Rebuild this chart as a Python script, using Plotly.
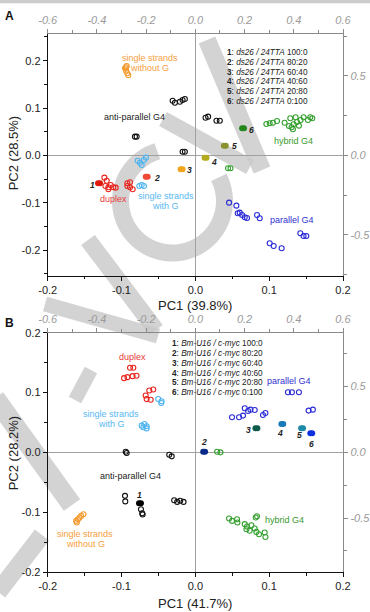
import math
import plotly.graph_objects as go

W, H = 370, 612
FONT = "Liberation Sans, Arial, sans-serif"

# ---------------- Panel A data ----------------
A_ssnoG_x = [-0.0953, -0.0939, -0.0922, -0.0908, -0.0930, -0.0939]
A_ssnoG_y = [0.184, 0.179, 0.1734, 0.1692, 0.1888, 0.186]
A_anti_x = [-0.0308, -0.0277, -0.0209, -0.0173, -0.0142, 0.0138, 0.0173, 0.0286, 0.0331,
            -0.0818, -0.0795, -0.0173, -0.0142]
A_anti_y = [0.1156, 0.1114, 0.1135, 0.1171, 0.1192, 0.0797, 0.0819, 0.0734, 0.0734,
            0.0397, 0.0397, 0.008, 0.008]
A_hyb_x = [0.0962, 0.1007, 0.1051, 0.1106, 0.1209, 0.1268, 0.1304, 0.1331, 0.1286, 0.1358,
           0.1376, 0.1403, 0.1426, 0.1466, 0.1525, 0.1557, 0.1584, 0.1322, 0.0443, 0.0476]
A_hyb_y = [0.0665, 0.0679, 0.0692, 0.0728, 0.0692, 0.0622, 0.0595, 0.0658, 0.0785, 0.0806,
           0.0707, 0.0629, 0.0749, 0.0806, 0.0749, 0.0806, 0.0785, 0.0553, -0.027, -0.027]
A_dup_x = [-0.1232, -0.1200, -0.1219, -0.1178, -0.1146, -0.1111, -0.1079, -0.0921, -0.0885,
           -0.0921, -0.0885, -0.0849, -0.1178]
A_dup_y = [-0.0468, -0.0532, -0.0643, -0.0671, -0.0622, -0.0671, -0.0679, -0.0587, -0.0566,
           -0.0643, -0.0671, -0.0713, -0.0713]
A_ssG_x = [-0.0781, -0.0750, -0.0727, -0.0696, -0.0669, -0.0759, -0.0727, -0.0696]
A_ssG_y = [-0.011, -0.0152, -0.020, -0.0095, -0.0046, -0.0643, -0.0622, -0.0643]
A_par_x = [0.0457, 0.0556, 0.0574, 0.0601, 0.0633, 0.0669, 0.0700, 0.0835, 0.0872, 0.1007,
           0.1061, 0.1169, 0.1422, 0.1466, 0.1503]
A_par_y = [-0.0995, -0.1058, -0.122, -0.1206, -0.1255, -0.1304, -0.1319, -0.1255, -0.1325,
           -0.1852, -0.1909, -0.1958, -0.1641, -0.1698, -0.1698]
A_mix_x = [-0.1305, -0.0659, -0.0186, 0.0138, 0.0399, 0.0646]
A_mix_y = [-0.0587, -0.0447, -0.0291, -0.0046, 0.0207, 0.0574]
A_mix_labels = ["1", "2", "3", "4", "5", "6"]
A_mix_colors = ["#e0180c", "#ee4a36", "#f0a51c", "#b4aa1e", "#8a9230", "#23871d"]
A_ratios = ["100:0", "80:20", "60:40", "40:60", "20:80", "0:100"]

# ---------------- Panel B data ----------------
B_dup_x = [-0.0885, -0.0840, -0.0966, -0.0920, -0.0850, -0.0797, -0.0624, -0.0570, -0.0673,
           -0.0660, -0.0605]
B_dup_y = [0.1413, 0.1413, 0.124, 0.1257, 0.1274, 0.128, 0.1033, 0.105, 0.095, 0.089, 0.088]
B_ssG_x = [-0.0503, -0.0457, -0.0462, -0.0727, -0.0690, -0.0660, -0.0705, -0.0660]
B_ssG_y = [0.0893, 0.0855, 0.0826, 0.0446, 0.0474, 0.0436, 0.042, 0.040]
B_par_x = [0.0497, 0.0592, 0.0646, 0.0669, 0.0714, 0.0746, 0.0804, 0.0916, 0.0949, 0.1254,
           0.1308, 0.1403, 0.1534, 0.1592]
B_par_y = [0.0586, 0.0586, 0.0614, 0.0737, 0.0692, 0.0714, 0.0709, 0.0625, 0.0659, 0.1005,
           0.1005, 0.1005, 0.0698, 0.0714]
B_anti_x = [-0.0943, -0.0930, -0.0354, -0.0320, -0.0953, -0.0949, -0.0737, -0.0720, -0.0714,
            -0.0287, -0.0246, -0.0205, -0.0160]
B_anti_y = [0.001, -0.001, -0.004, -0.0067, -0.0727, -0.082, -0.095, -0.1017, -0.104,
            -0.080, -0.0828, -0.081, -0.0828]
B_hyb_x = [0.0295, 0.0340, 0.0457, 0.0497, 0.0565, 0.0570, 0.0669, 0.0700, 0.0692, 0.0736,
           0.0759, 0.0804, 0.0827, 0.0862, 0.0939, 0.0949, 0.0818, 0.0835]
B_hyb_y = [0.001, 0.0, -0.1106, -0.1146, -0.1118, -0.1173, -0.120, -0.124, -0.1285, -0.131,
           -0.1218, -0.1274, -0.133, -0.137, -0.134, -0.1414, -0.109, -0.1067]
B_ssnoG_x = [-0.1615, -0.1590, -0.1570, -0.1547, -0.1516, -0.1605]
B_ssnoG_y = [-0.1146, -0.112, -0.1095, -0.1062, -0.1034, -0.1173]
B_mix_x = [-0.0750, 0.0119, 0.0827, 0.1178, 0.1446, 0.1570]
B_mix_y = [-0.085, 0.001, 0.0402, 0.0474, 0.0402, 0.0318]
B_mix_labels = ["1", "2", "3", "4", "5", "6"]
B_mix_colors = ["#000000", "#0a2a8a", "#0f5a4a", "#1a7ab8", "#1f8aa5", "#1030e0"]
B_ratios = ["100:0", "80:20", "60:40", "40:60", "20:80", "0:100"]

# tick values
X_TICKS = [-0.2, -0.1, 0.0, 0.1, 0.2]
Y_TICKS = [-0.2, -0.1, 0.0, 0.1, 0.2]
TOP_TICKS = [-0.6, -0.4, -0.2, 0.0, 0.2, 0.4, 0.6]
RIGHT_TICKS = [-0.5, 0.0, 0.5]

C_RED = "#e8261f"
C_LBLUE = "#4fb4f0"
C_ORANGE = "#f39a2e"
C_GREEN = "#36a030"
C_BLUE = "#2b2bd6"
C_BLACK = "#111111"


def P(x, y):
    return x / W, 1 - y / H


def fmt(v):
    return f"{v:.1f}"


fig = go.Figure()


def open_trace(xs, ys, color, xa, ya):
    fig.add_trace(go.Scatter(
        x=xs, y=ys, mode="markers", xaxis=xa, yaxis=ya, showlegend=False, hoverinfo="skip",
        marker=dict(symbol="circle-open", size=5, color=color, line=dict(width=1.1, color=color))))


def filled_trace(xs, ys, colors, xa, ya):
    # two slightly offset dots each, to give the elongated blob look
    xx, yy, cc = [], [], []
    for x, y, c in zip(xs, ys, colors):
        for d in (-0.0013, 0.0013):
            xx.append(x + d)
            yy.append(y)
            cc.append(c)
    fig.add_trace(go.Scatter(
        x=xx, y=yy, mode="markers", xaxis=xa, yaxis=ya, showlegend=False, hoverinfo="skip",
        marker=dict(symbol="circle", size=6, color=cc, line=dict(width=0))))


# Panel A
open_trace(A_ssnoG_x, A_ssnoG_y, C_ORANGE, "x", "y")
open_trace(A_anti_x, A_anti_y, C_BLACK, "x", "y")
open_trace(A_hyb_x, A_hyb_y, C_GREEN, "x", "y")
open_trace(A_dup_x, A_dup_y, C_RED, "x", "y")
open_trace(A_ssG_x, A_ssG_y, C_LBLUE, "x", "y")
open_trace(A_par_x, A_par_y, C_BLUE, "x", "y")
filled_trace(A_mix_x, A_mix_y, A_mix_colors, "x", "y")
fig.add_trace(go.Scatter(x=[], y=[], xaxis="x2", yaxis="y2", showlegend=False))

# Panel B
open_trace(B_dup_x, B_dup_y, C_RED, "x3", "y3")
open_trace(B_ssG_x, B_ssG_y, C_LBLUE, "x3", "y3")
open_trace(B_par_x, B_par_y, C_BLUE, "x3", "y3")
open_trace(B_anti_x, B_anti_y, C_BLACK, "x3", "y3")
open_trace(B_hyb_x, B_hyb_y, C_GREEN, "x3", "y3")
open_trace(B_ssnoG_x, B_ssnoG_y, C_ORANGE, "x3", "y3")
filled_trace(B_mix_x, B_mix_y, B_mix_colors, "x3", "y3")
fig.add_trace(go.Scatter(x=[], y=[], xaxis="x4", yaxis="y4", showlegend=False))

# ---------------- layout geometry (px) ----------------
XL, XR = 47.7, 343.0
A_TOP, A_BOT = 34.0, 275.5
B_TOP, B_BOT = 332.7, 572.0
xdom = [XL / W, XR / W]
A_dom = [1 - A_BOT / H, 1 - A_TOP / H]
B_dom = [1 - B_BOT / H, 1 - B_TOP / H]

A_yrange = [-0.2532, 0.2563]
A_rrange = [-0.755, 0.764]
B_yrange = [-0.2, 0.2]
B_rrange = [-0.91, 0.91]

tickfont = dict(family=FONT, size=11, color="#222")
grayfont = dict(family=FONT, size=11, color="#9a9a9a", style="italic")


def main_x(dom_anchor):
    return dict(domain=xdom, range=[-0.2, 0.2], anchor=dom_anchor, showgrid=False,
                automargin=False,
                zeroline=True, zerolinecolor="#a0a0a0", zerolinewidth=1.3,
                showline=True, linecolor="#111", linewidth=1,
                ticks="outside", ticklen=4, tickcolor="#111", tickwidth=1,
                tickmode="array", tickvals=X_TICKS, ticktext=[fmt(v) for v in X_TICKS],
                tickfont=tickfont,
                minor=dict(tickmode="linear", tick0=0, dtick=0.05, ticks="outside",
                           ticklen=2.5, tickcolor="#111", showgrid=False))


def main_y(dom, rng, anchor):
    return dict(domain=dom, range=rng, anchor=anchor, showgrid=False,
                automargin=False,
                zeroline=True, zerolinecolor="#a0a0a0", zerolinewidth=1.3,
                showline=True, linecolor="#111", linewidth=1,
                ticks="outside", ticklen=4, tickcolor="#111", tickwidth=1,
                tickmode="array", tickvals=Y_TICKS, ticktext=[fmt(v) for v in Y_TICKS],
                tickfont=tickfont,
                minor=dict(tickmode="linear", tick0=0, dtick=0.05, ticks="outside",
                           ticklen=2.5, tickcolor="#111", showgrid=False))


def top_x(over, anchor):
    return dict(overlaying=over, side="top", anchor=anchor, range=[-0.6, 0.6],
                automargin=False,
                showgrid=False, zeroline=False, showline=True, linecolor="#8a8a8a", linewidth=1.4,
                ticks="outside", ticklen=4, tickcolor="#8a8a8a",
                tickmode="array", tickvals=TOP_TICKS, ticktext=[fmt(v) for v in TOP_TICKS],
                tickfont=grayfont,
                minor=dict(tickmode="linear", tick0=0, dtick=0.1, ticks="outside",
                           ticklen=2.5, tickcolor="#8a8a8a", showgrid=False))


def right_y(over, anchor, rng):
    return dict(overlaying=over, side="right", anchor=anchor, range=rng,
                automargin=False,
                showgrid=False, zeroline=False, showline=True, linecolor="#8a8a8a", linewidth=1.4,
                ticks="outside", ticklen=4, tickcolor="#8a8a8a",
                tickmode="array", tickvals=RIGHT_TICKS, ticktext=[fmt(v) for v in RIGHT_TICKS],
                tickfont=grayfont,
                minor=dict(tickmode="linear", tick0=0, dtick=0.25, ticks="outside",
                           ticklen=2.5, tickcolor="#8a8a8a", showgrid=False))


annotations = []


def ann_px(text, x, y, size, color="#222", xanchor="center", angle=0, yanchor="middle"):
    px, py = P(x, y)
    annotations.append(dict(text=text, x=px, y=py, xref="paper", yref="paper", showarrow=False,
                            xanchor=xanchor, yanchor=yanchor, textangle=angle,
                            font=dict(family=FONT, size=size, color=color)))


def ann_data(text, x, y, size, color, xa, ya):
    annotations.append(dict(text=text, x=x, y=y, xref=xa, yref=ya, showarrow=False,
                            xanchor="center", yanchor="middle",
                            font=dict(family=FONT, size=size, color=color)))


# panel letters
ann_px("<b>A</b>", 9.5, 15.7, 12, "#111")
ann_px("<b>B</b>", 9.5, 323.3, 12, "#111")
# axis titles
ann_px("PC1 (39.8%)", 195, 305.7, 13, "#222")
ann_px("PC2 (28.5%)", 13.3, 153, 13, "#222", angle=-90)
ann_px("PC1 (41.7%)", 195, 603.3, 13, "#222")
ann_px("PC2 (28.2%)", 13.3, 453, 13, "#222", angle=-90)

# group labels panel A
GS = 9
ann_data("single strands", -0.0615, 0.205, GS, "#f5a040", "x", "y")
ann_data("without G", -0.0615, 0.184, GS, "#f5a040", "x", "y")
ann_data("anti-parallel G4", -0.0818, 0.0819, GS, "#222", "x", "y")
ann_data("hybrid G4", 0.1331, 0.0312, GS, "#3a9a30", "x", "y")
ann_data("duplex", -0.1115, -0.0924, GS, "#e83a3a", "x", "y")
ann_data("single strands", -0.0403, -0.0854, GS, "#58b8f0", "x", "y")
ann_data("with G", -0.0403, -0.1065, GS, "#58b8f0", "x", "y")
ann_data("parallel G4", 0.1304, -0.136, GS, "#3030d0", "x", "y")

# group labels panel B
ann_data("duplex", -0.0854, 0.160, GS, "#e83a3a", "x3", "y3")
ann_data("single strands", -0.1142, 0.0645, GS, "#58b8f0", "x3", "y3")
ann_data("with G", -0.1142, 0.0480, GS, "#58b8f0", "x3", "y3")
ann_data("parallel G4", 0.1268, 0.1198, GS, "#3030d0", "x3", "y3")
ann_data("anti-parallel G4", -0.0872, -0.0395, GS, "#222", "x3", "y3")
ann_data("hybrid G4", 0.121, -0.1131, GS, "#3a9a30", "x3", "y3")
ann_data("single strands", -0.1489, -0.1365, GS, "#f5a040", "x3", "y3")
ann_data("without G", -0.1489, -0.1540, GS, "#f5a040", "x3", "y3")

# number labels next to filled markers
A_shift = [(-7, -2), (10, -1), (8, -1), (8, -4), (10, 0), (8, -2)]
B_shift = [(0, 8), (0, 10), (-8, -2), (-2, -9), (-3, -7), (0, -11)]
for lab, x, y, (dx, dy) in zip(A_mix_labels, A_mix_x, A_mix_y, A_shift):
    annotations.append(dict(text=f"<b><i>{lab}</i></b>", x=x, y=y, xref="x", yref="y",
                            xshift=dx, yshift=dy, showarrow=False,
                            font=dict(family=FONT, size=8.5, color="#222")))
for lab, x, y, (dx, dy) in zip(B_mix_labels, B_mix_x, B_mix_y, B_shift):
    annotations.append(dict(text=f"<b><i>{lab}</i></b>", x=x, y=y, xref="x3", yref="y3",
                            xshift=dx, yshift=dy, showarrow=False,
                            font=dict(family=FONT, size=8.5, color="#222")))

# key text blocks
KS = 8.2
for i, (lab, r) in enumerate(zip(A_mix_labels, A_ratios)):
    ann_px(f"<b>{lab}</b>: <i>ds26 / 24TTA</i> {r}", 225, 52.5 + 9.8 * i, KS, "#222", xanchor="left")
for i, (lab, r) in enumerate(zip(B_mix_labels, B_ratios)):
    ann_px(f"<b>{lab}</b>: <i>Bm-U16 / c-myc</i> {r}", 170, 343.3 + 9.9 * i, KS, "#222", xanchor="left")

# ---------------- watermark (decorative gray strokes) ----------------
WM = "rgba(200,200,200,0.8)"
shapes = []


def band(x0, y0, x1, y1, w):
    a, b = P(x0, y0)
    c, d = P(x1, y1)
    shapes.append(dict(type="line", xref="paper", yref="paper", x0=a, y0=b, x1=c, y1=d,
                       line=dict(color=WM, width=w), layer="below"))


band(207, 40, 262, 170, 18)
band(163, 119, 250, 167, 16)
band(88, 240, 156, 330, 17)
band(45, 304, 158, 336, 15)
band(75, 400, 91, 370, 14)
band(-5, 398, 72, 505, 20)
band(-2, 592, 42, 535, 18)

cx, cy, r = 172.5, 201.0, 52.0
pts = []
for k in range(0, 57):
    ang = math.radians(107 + k * 5)
    px, py = P(cx + r * math.cos(ang), cy - r * math.sin(ang))
    pts.append(f"{px:.5f},{py:.5f}")
shapes.append(dict(type="path", xref="paper", yref="paper", path="M" + " L".join(pts),
                   line=dict(color=WM, width=17), layer="below"))
# light gray bar at the very top
shapes.append(dict(type="rect", xref="paper", yref="paper", x0=0, x1=1, y0=1 - 3.3 / H, y1=1,
                   fillcolor="#cccccc", line=dict(width=0), layer="below"))

fig.update_layout(
    template="none",
    width=W, height=H, autosize=False,
    margin=dict(l=0, r=0, t=0, b=0, pad=0),
    paper_bgcolor="white", plot_bgcolor="rgba(0,0,0,0)",
    showlegend=False,
    font=dict(family=FONT),
    xaxis=main_x("y"),
    yaxis=main_y(A_dom, A_yrange, "x"),
    xaxis2=top_x("x", "y"),
    yaxis2=right_y("y", "x", A_rrange),
    xaxis3=main_x("y3"),
    yaxis3=main_y(B_dom, B_yrange, "x3"),
    xaxis4=top_x("x3", "y3"),
    yaxis4=right_y("y3", "x3", B_rrange),
    annotations=annotations,
    shapes=shapes,
)

fig.write_html("out.html")
